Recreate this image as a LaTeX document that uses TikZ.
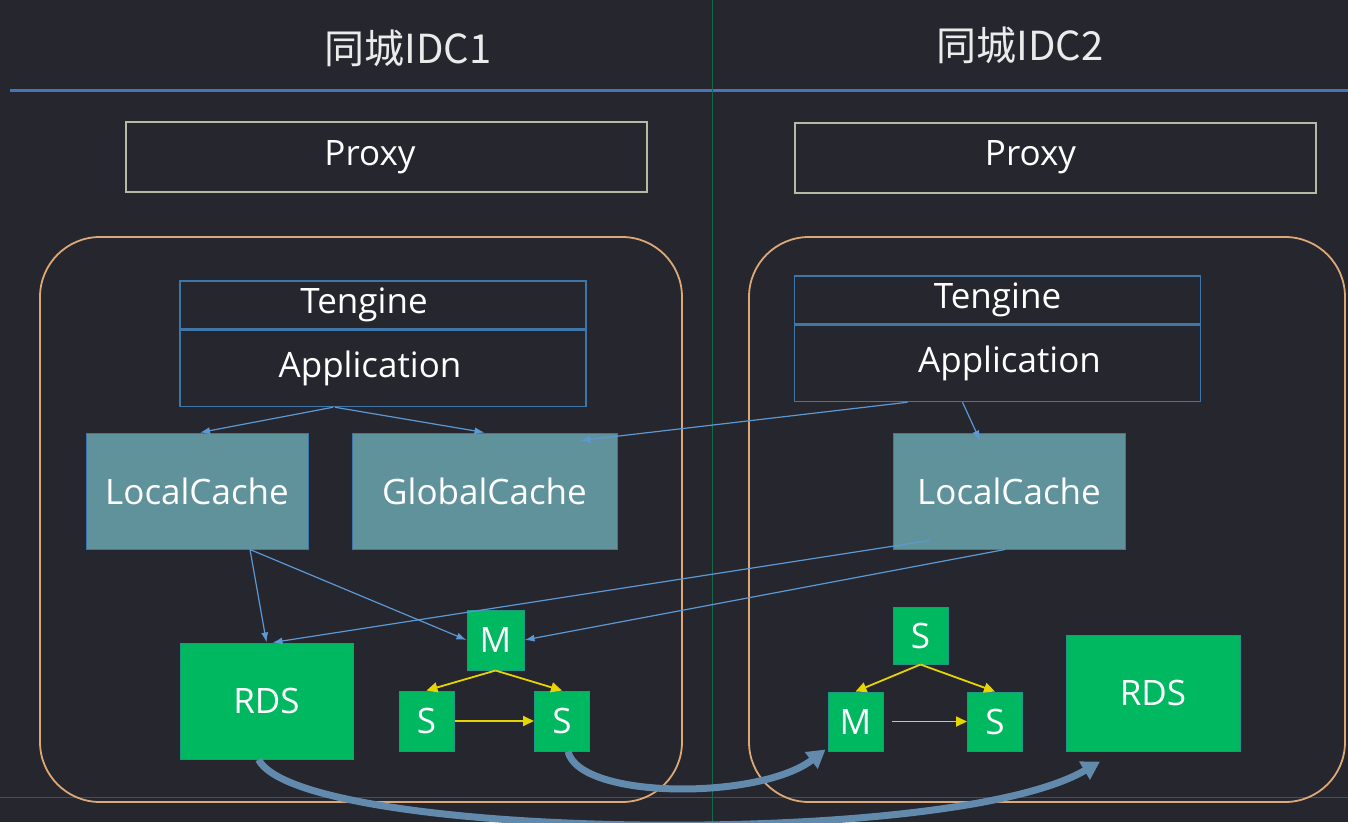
\documentclass[tikz,border=0pt]{standalone}
\usepackage{fontspec}
\setmainfont{Open Sans}
\newfontfamily\cjk{Noto Sans CJK SC}
\usetikzlibrary{arrows.meta,calc,positioning}

\definecolor{bg}{RGB}{37,38,46}
\definecolor{headline}{RGB}{75,115,185}
\definecolor{splitline}{RGB}{22,105,72}
\definecolor{idcline}{RGB}{222,168,118}
\definecolor{proxyline}{RGB}{178,188,165}
\definecolor{stackline}{RGB}{62,118,170}
\definecolor{cachefill}{RGB}{96,146,156}
\definecolor{dbgreen}{RGB}{0,184,96}
\definecolor{linkblue}{RGB}{92,152,212}
\definecolor{syncyellow}{RGB}{232,212,0}
\definecolor{moveblue}{RGB}{98,138,172}

\begin{document}
\begin{tikzpicture}[
    x=1pt, y=-1pt,
    every node/.style={text=white, font=\fontsize{35}{40}\selectfont},
    title/.style={font=\cjk\fontsize{40}{46}\selectfont, text=white!92!black},
    proxy/.style={rectangle, draw=proxyline, line width=2pt, minimum width=521pt, minimum height=70pt, inner sep=0pt},
    layer/.style={rectangle, draw=stackline, line width=1.5pt, minimum width=406pt, inner sep=0pt},
    cache/.style={rectangle, fill=cachefill, draw=stackline, line width=1pt, minimum height=116pt, inner sep=0pt},
    db/.style={rectangle, fill=dbgreen, draw=stackline!50!dbgreen, line width=1pt, inner sep=0pt},
    link/.style={draw=linkblue, line width=1.2pt, -{Latex[length=10pt,width=7pt]}},
    sync/.style={draw=syncyellow, line width=1.8pt, -{Triangle[length=11pt,width=10pt]}},
    move/.style={draw=moveblue, line width=7pt, -{Triangle[length=18pt,width=20pt]}}
]

% Background and frame
\fill [bg] (0,0) rectangle (1348,822);
\useasboundingbox (0,0) rectangle (1348,822);
\draw [white!18!bg, line width=1pt] (0,797) -- (1348,797);
\draw [headline, line width=3pt] (10,90) -- (1348,90);
\draw [splitline, line width=1pt] (712,0) -- (712,822);

% IDC containers
\draw [idcline, line width=1.8pt, rounded corners=60pt] (40,237) rectangle (682,802);
\draw [idcline, line width=1.8pt, rounded corners=60pt] (749,237) rectangle (1345,802);

% Titles
\node [title] (idc1) at (408,48) {同城IDC1};
\node [title] (idc2) at (1020,45) {同城IDC2};

% Nodes - IDC1
\node [proxy] (proxy1) at (386,157) {\hspace*{-32pt}Proxy};
\node [layer, minimum height=48pt] (ten1) at (383,305) {\hspace*{-38pt}Tengine};
\node [layer, minimum height=76pt, below=0pt of ten1] (app1) {\hspace*{-26pt}Application};
\node [cache, minimum width=222pt] (lc1) at (197,491) {LocalCache};
\node [cache, minimum width=265pt] (gc) at (484.5,491) {GlobalCache};
\node [db, minimum width=173pt, minimum height=116pt] (rds1) at (266.5,701) {RDS};
\node [db, minimum width=57pt, minimum height=60pt] (m1) at (495.5,640) {M};
\node [db, minimum width=55pt, minimum height=60pt] (s1) at (426.5,721) {S};
\node [db, minimum width=55pt, minimum height=60pt] (s2) at (562,721) {S};

% Nodes - IDC2
\node [proxy] (proxy2) at (1055.5,157.5) {\hspace*{-50pt}Proxy};
\node [layer, minimum height=48pt] (ten2) at (997.5,300) {Tengine};
\node [layer, minimum height=76pt, below=0pt of ten2] (app2) {\hspace*{24pt}Application};
\node [cache, minimum width=232pt] (lc2) at (1009,491) {LocalCache};
\node [db, minimum width=55pt, minimum height=57pt] (s3) at (920.5,635.5) {S};
\node [db, minimum width=55pt, minimum height=59pt] (m2) at (855.5,721.5) {M};
\node [db, minimum width=55pt, minimum height=59pt] (s4) at (995,721.5) {S};
\node [db, minimum width=174pt, minimum height=116pt] (rds2) at (1153,693) {RDS};

% Connections - application to caches
\draw [link] ([xshift=-50pt]app1.south) -- ([xshift=3pt]lc1.north);
\draw [link] ([xshift=-48pt]app1.south) -- (gc.north);
\draw [link] ([xshift=-90pt]app2.south) -- ([xshift=-37pt,yshift=-8pt]gc.north east);
\draw [link] ([xshift=-35pt]app2.south) -- ([xshift=-29pt,yshift=-8pt]lc2.north);

% Connections - caches to storage
\draw [link] ([xshift=53pt]lc1.south) -- (rds1.north);
\draw [link] ([xshift=53pt]lc1.south) -- (m1.west);
\draw [link] ([xshift=37pt,yshift=9pt]lc2.south west) -- ([xshift=6pt]rds1.north);
\draw [link] ([xshift=-4pt]lc2.south) -- (m1.east);

% Replication
\draw [sync] (m1.south) -- (s1.north);
\draw [sync] (m1.south) -- (s2.north);
\draw [sync] (s1.east) -- (s2.west);
\draw [sync] (s3.south) -- (m2.north);
\draw [sync] (s3.south) -- (s4.north);
\draw [sync] ([xshift=8pt]m2.east) -- (s4.west);

% Cross-IDC sync
\draw [move] ([xshift=-8pt]rds1.south) .. controls (300,840) and (950,850) .. ([xshift=-53pt,yshift=-10pt]rds2.south);
\draw [move] ([xshift=6pt]s2.south) .. controls (580,800) and (760,800) .. ([xshift=-2pt,yshift=2pt]m2.south west);

\end{tikzpicture}
\end{document}
